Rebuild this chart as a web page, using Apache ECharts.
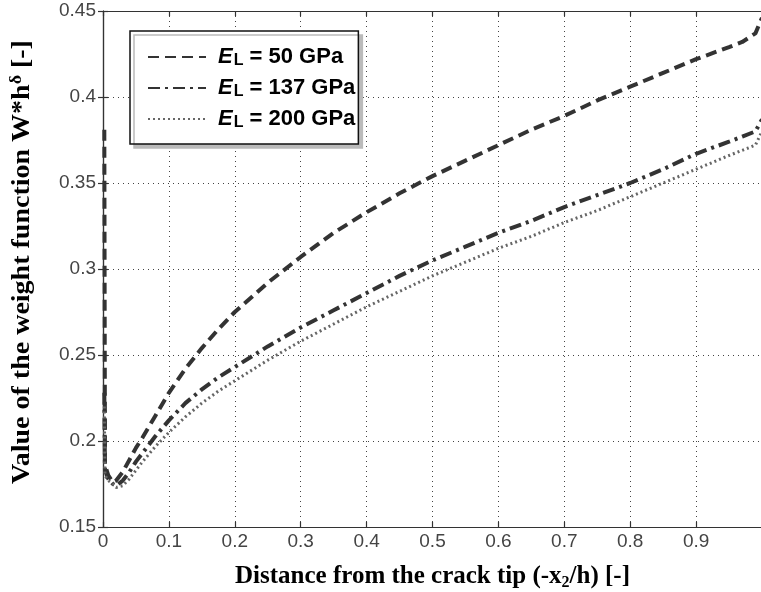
<!DOCTYPE html>
<html>
<head>
<meta charset="utf-8">
<script src="https://cdn.jsdelivr.net/npm/echarts@6/dist/echarts.min.js"></script>
<style>
  html, body { margin: 0; padding: 0; background: #fff; }
  #chart { width: 761px; height: 592px; }
</style>
</head>
<body>
<div id="chart"></div>
<script>
// Normalised distance from the crack tip (-x2/h)
const distance = [0.002, 0.003, 0.008, 0.015, 0.02, 0.03, 0.04, 0.05, 0.06, 0.08,
  0.1, 0.125, 0.15, 0.175, 0.2, 0.25, 0.3, 0.35, 0.4, 0.45, 0.5, 0.55, 0.6, 0.65,
  0.7, 0.75, 0.8, 0.85, 0.9, 0.95, 0.97, 0.99, 1.0];

// Weight function W*h^delta for three longitudinal moduli
const weightE50 = [0.381, 0.186, 0.180, 0.176, 0.177, 0.182, 0.189, 0.196, 0.202, 0.215,
  0.228, 0.242, 0.254, 0.265, 0.275, 0.292, 0.307, 0.321, 0.333, 0.344, 0.354, 0.363,
  0.372, 0.381, 0.389, 0.398, 0.406, 0.414, 0.422, 0.429, 0.432, 0.437, 0.446];
const weightE137 = [0.228, 0.183, 0.178, 0.175, 0.174, 0.177, 0.182, 0.188, 0.193, 0.203,
  0.212, 0.222, 0.230, 0.237, 0.243, 0.255, 0.266, 0.276, 0.286, 0.296, 0.305, 0.313,
  0.321, 0.328, 0.336, 0.343, 0.350, 0.358, 0.367, 0.374, 0.377, 0.380, 0.387];
const weightE200 = [0.220, 0.180, 0.177, 0.175, 0.173, 0.174, 0.178, 0.183, 0.188, 0.197,
  0.205, 0.214, 0.222, 0.229, 0.235, 0.247, 0.258, 0.268, 0.278, 0.287, 0.296, 0.304,
  0.312, 0.319, 0.327, 0.334, 0.342, 0.350, 0.358, 0.366, 0.369, 0.372, 0.380];

const seriesNames = ['E50', 'E137', 'E200'];
const legendText = { E50: '50 GPa', E137: '137 GPa', E200: '200 GPa' };

const pairs = (ys) => distance.map((x, i) => [x, ys[i]]);

const serif = 'Liberation Serif, Times New Roman, serif';
const sans = 'Liberation Sans, Arial, sans-serif';
const tickFont = { fontFamily: sans, fontSize: 19, color: '#444' };
const gridLine = { show: true, lineStyle: { color: '#444', type: [1, 4], width: 1 } };
const boxLine = { show: true, lineStyle: { color: '#333', width: 1.2 } };
const innerTick = { show: true, inside: true, length: 5, lineStyle: { color: '#333', width: 1.2 } };

const chart = echarts.init(document.getElementById('chart'), null, { renderer: 'canvas' });

chart.setOption({
  animation: false,
  backgroundColor: '#fff',
  grid: { left: 103, top: 11, width: 659, height: 516, containLabel: false, outerBoundsMode: 'none' },
  xAxis: [{
    type: 'value', min: 0, max: 1, interval: 0.1,
    axisLine: boxLine, axisTick: innerTick, splitLine: gridLine,
    axisLabel: Object.assign({ margin: 5, showMaxLabel: false }, tickFont),
    name: '{t|Distance from the crack tip (-x}{sub|2}{t|/h) [-]}',
    nameLocation: 'middle', nameGap: 36,
    nameTextStyle: {
      rich: {
        t: { fontFamily: serif, fontWeight: 'bold', fontSize: 25, color: '#000', lineHeight: 28 },
        sub: { fontFamily: serif, fontWeight: 'bold', fontSize: 16, color: '#000', lineHeight: 16, padding: [12, 0, 0, 0] }
      }
    }
  }, {
    type: 'value', min: 0, max: 1, interval: 0.1, position: 'top',
    axisLine: boxLine, axisTick: innerTick, axisLabel: { show: false }, splitLine: { show: false }
  }],
  yAxis: [{
    type: 'value', min: 0.15, max: 0.45, interval: 0.05,
    axisLine: boxLine, axisTick: innerTick, splitLine: gridLine,
    axisLabel: Object.assign({ margin: 7 }, tickFont)
  }, {
    type: 'value', min: 0.15, max: 0.45, interval: 0.05, position: 'right',
    axisLine: boxLine, axisTick: innerTick, axisLabel: { show: false }, splitLine: { show: false }
  }],
  // vertical axis title, stretched along its length
  graphic: [{
    type: 'text',
    x: 23, y: 262,
    rotation: Math.PI / 2,
    scaleX: 1.12,
    style: {
      text: '{t|Value of the weight function W*h}{sup|δ}{t| [-]}',
      align: 'center', verticalAlign: 'middle',
      rich: {
        t: { fontFamily: serif, fontWeight: 'bold', fontSize: 25, fill: '#000', lineHeight: 28 },
        sup: { fontFamily: serif, fontWeight: 'bold', fontSize: 16, fill: '#000', lineHeight: 16, padding: [0, 0, 12, 0] }
      }
    }
  }],
  legend: {
    orient: 'vertical', left: 130, top: 31,
    padding: [14, 3, 13, 17],
    itemGap: 7, itemWidth: 58, itemHeight: 14,
    backgroundColor: '#fff', borderColor: '#111', borderWidth: 1.5,
    shadowColor: '#bbb', shadowBlur: 0, shadowOffsetX: 4, shadowOffsetY: 4,
    itemStyle: { opacity: 0 },
    data: seriesNames,
    formatter: (name) => '{e|E}{sub|L}{t| = ' + legendText[name] + '}',
    textStyle: {
      padding: [0, 0, 0, 7],
      rich: {
        e: { fontFamily: sans, fontWeight: 'bold', fontStyle: 'italic', fontSize: 22, color: '#000', lineHeight: 24 },
        t: { fontFamily: sans, fontWeight: 'bold', fontSize: 22, color: '#000', lineHeight: 24 },
        sub: { fontFamily: sans, fontWeight: 'bold', fontSize: 16, color: '#000', lineHeight: 16, padding: [8, 0, 0, 1] }
      }
    }
  },
  series: [{
    name: 'E50', type: 'line', data: pairs(weightE50), showSymbol: false, symbol: 'none',
    lineStyle: { color: '#333', width: 4, type: [11, 6] }, itemStyle: { color: '#333' }
  }, {
    name: 'E137', type: 'line', data: pairs(weightE137), showSymbol: false, symbol: 'none',
    lineStyle: { color: '#333', width: 4, type: [12, 5, 3, 5] }, itemStyle: { color: '#333' }
  }, {
    name: 'E200', type: 'line', data: pairs(weightE200), showSymbol: false, symbol: 'none',
    lineStyle: { color: '#666', width: 3, type: [2, 3] }, itemStyle: { color: '#666' }
  }]
});
</script>
</body>
</html>
